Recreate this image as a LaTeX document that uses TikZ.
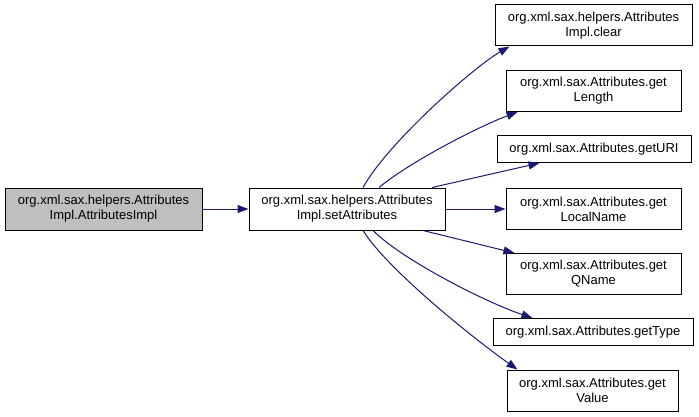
\documentclass[tikz,border=0pt]{standalone}
\usepackage{fontspec}
\setmainfont{Liberation Sans}
\usetikzlibrary{arrows.meta}
\definecolor{edgeblue}{HTML}{191970}
\begin{document}
\begin{tikzpicture}[x=1pt,y=-1pt,
  box/.style={draw=black,line width=1pt,fill=white,inner sep=0pt,align=center,
    font=\fontsize{13}{15}\selectfont},
  focus/.style={box,fill=gray!50},
  edge/.style={draw=edgeblue,line width=1pt,-{Triangle[length=11pt,width=8pt]}}]
\useasboundingbox (0,0) rectangle (699,417);
\node[focus,minimum width=197pt,minimum height=42pt] (A) at (103.5,209) {org.xml.sax.helpers.Attributes\\Impl.AttributesImpl};
\node[box,minimum width=196pt,minimum height=42pt] (B) at (347,209) {org.xml.sax.helpers.Attributes\\Impl.setAttributes};
\node[box,minimum width=197pt,minimum height=41pt] (C1) at (593.5,25.5) {org.xml.sax.helpers.Attributes\\Impl.clear};
\node[box,minimum width=175pt,minimum height=41pt] (C2) at (593.5,91) {org.xml.sax.Attributes.get\\Length};
\node[box,minimum width=194pt,minimum height=27pt] (C3) at (594,149) {org.xml.sax.Attributes.getURI};
\node[box,minimum width=175pt,minimum height=41pt] (C4) at (593.5,209) {org.xml.sax.Attributes.get\\LocalName};
\node[box,minimum width=175pt,minimum height=41pt] (C5) at (593.5,274) {org.xml.sax.Attributes.get\\QName};
\node[box,minimum width=200pt,minimum height=27pt] (C6) at (593,332) {org.xml.sax.Attributes.getType};
\node[box,minimum width=171pt,minimum height=41pt] (C7) at (592.5,390.5) {org.xml.sax.Attributes.get\\Value};
\draw[edge] (A.east) -- (B.west);
\draw[edge] ([xshift=16pt]B.north) .. controls +(25,-45) and +(-35,20) .. ([xshift=15pt]C1.south west);
\draw[edge] ([xshift=32pt]B.north) .. controls +(30,-25) and +(-40,15) .. ([xshift=12pt]C2.south west);
\draw[edge] ([xshift=85pt]B.north) -- ([xshift=43pt]C3.south west);
\draw[edge] (B.east) -- (C4.west);
\draw[edge] ([xshift=76pt]B.south) -- ([xshift=9pt]C5.north west);
\draw[edge] ([xshift=26pt]B.south) .. controls +(30,30) and +(-45,-15) .. ([xshift=40pt]C6.north west);
\draw[edge] ([xshift=16pt]B.south) .. controls +(25,40) and +(-40,-28) .. ([xshift=11pt]C7.north west);
\end{tikzpicture}
\end{document}
